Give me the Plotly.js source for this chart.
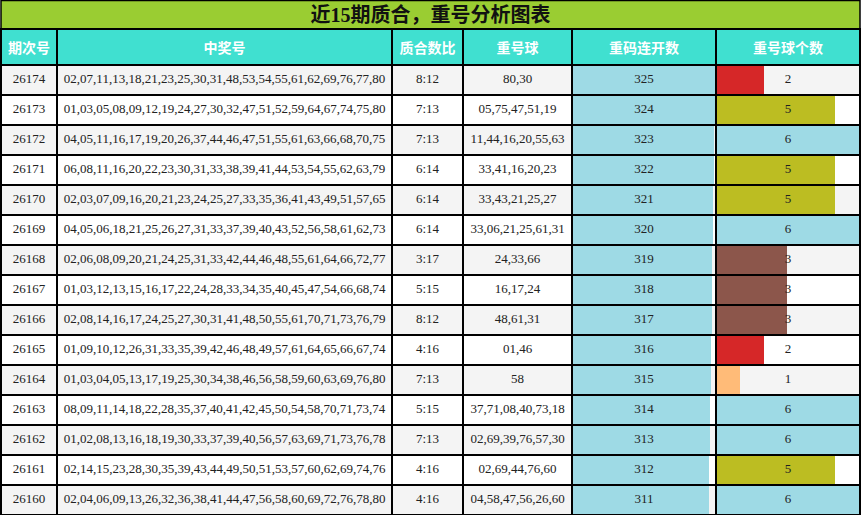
<!DOCTYPE html>
<html>
<head>
<meta charset="utf-8">
<script src="https://cdn.plot.ly/plotly-3.0.1.min.js"></script>
<style>
  html, body { margin: 0; padding: 0; background: #fff; }
  #chart { width: 861px; height: 515px; }
</style>
</head>
<body>
<div id="chart"></div>
<script>
        const chartTitle = '近15期质合，重号分析图表';
        const headers = ['期次号', '中奖号', '质合数比', '重号球', '重码连开数', '重号球个数'];

        const periods = ['26174', '26173', '26172', '26171', '26170', '26169', '26168', '26167',
            '26166', '26165', '26164', '26163', '26162', '26161', '26160'];
        const draws = [
            '02,07,11,13,18,21,23,25,30,31,48,53,54,55,61,62,69,76,77,80',
            '01,03,05,08,09,12,19,24,27,30,32,47,51,52,59,64,67,74,75,80',
            '04,05,11,16,17,19,20,26,37,44,46,47,51,55,61,63,66,68,70,75',
            '06,08,11,16,20,22,23,30,31,33,38,39,41,44,53,54,55,62,63,79',
            '02,03,07,09,16,20,21,23,24,25,27,33,35,36,41,43,49,51,57,65',
            '04,05,06,18,21,25,26,27,31,33,37,39,40,43,52,56,58,61,62,73',
            '02,06,08,09,20,21,24,25,31,33,42,44,46,48,55,61,64,66,72,77',
            '01,03,12,13,15,16,17,22,24,28,33,34,35,40,45,47,54,66,68,74',
            '02,08,14,16,17,24,25,27,30,31,41,48,50,55,61,70,71,73,76,79',
            '01,09,10,12,26,31,33,35,39,42,46,48,49,57,61,64,65,66,67,74',
            '01,03,04,05,13,17,19,25,30,34,38,46,56,58,59,60,63,69,76,80',
            '08,09,11,14,18,22,28,35,37,40,41,42,45,50,54,58,70,71,73,74',
            '01,02,08,13,16,18,19,30,33,37,39,40,56,57,63,69,71,73,76,78',
            '02,14,15,23,28,30,35,39,43,44,49,50,51,53,57,60,62,69,74,76',
            '02,04,06,09,13,26,32,36,38,41,44,47,56,58,60,69,72,76,78,80'
        ];
        const ratios = ['8:12', '7:13', '7:13', '6:14', '6:14', '6:14', '3:17', '5:15',
            '8:12', '4:16', '7:13', '5:15', '7:13', '4:16', '4:16'];
        const repeats = ['80,30', '05,75,47,51,19', '11,44,16,20,55,63', '33,41,16,20,23',
            '33,43,21,25,27', '33,06,21,25,61,31', '24,33,66', '16,17,24', '48,61,31', '01,46',
            '58', '37,71,08,40,73,18', '02,69,39,76,57,30', '02,69,44,76,60', '04,58,47,56,26,60'];
        const streak = [325, 324, 323, 322, 321, 320, 319, 318, 317, 316, 315, 314, 313, 312, 311];
        const repeatCount = [2, 5, 6, 5, 5, 6, 3, 3, 3, 2, 1, 6, 6, 5, 6];

        // colours per repeat count
        const countColors = { 1: '#ffbb78', 2: '#d62728', 3: '#8c564b', 4: '#98df8a', 5: '#bcbd22', 6: '#9edae5' };

        const W = 861, H = 515;
        const colW = [56, 335, 71, 109, 144, 144];
        const tableLeft = 1, titleH = 29, headH = 35, rowH = 30;

        // column edges in pixels -> paper fractions
        const edges = [tableLeft];
        colW.forEach(w => edges.push(edges[edges.length - 1] + w));
        const px = v => v / W;
        const py = v => 1 - v / H;

        const rowFill = periods.map((p, i) => i % 2 === 0 ? '#f4f4f4' : '#ffffff');
        const clear = periods.map(() => 'rgba(0,0,0,0)');

        const table = {
            type: 'table',
            domain: { x: [px(edges[0]), px(edges[6])], y: [0, py(titleH)] },
            columnwidth: colW,
            header: {
                values: headers.map(h => '<b>' + h + '</b>'),
                height: headH,
                align: 'center',
                fill: { color: '#40e0d0' },
                line: { color: '#000', width: 1.5 },
                font: { family: 'Noto Sans CJK SC', size: 14, color: '#fff' }
            },
            cells: {
                values: [periods, draws, ratios, repeats, streak, repeatCount],
                height: rowH,
                align: 'center',
                fill: { color: [rowFill, rowFill, rowFill, rowFill, clear, clear] },
                line: { color: '#000', width: 1.5 },
                font: { family: 'Liberation Serif, serif', size: 13, color: '#222' }
            }
        };

        const streakBars = {
            type: 'bar', orientation: 'h',
            x: streak, y: periods,
            xaxis: 'x', yaxis: 'y',
            marker: { color: '#9edae5' },
            hoverinfo: 'skip'
        };
        const countBars = {
            type: 'bar', orientation: 'h',
            x: repeatCount, y: periods,
            xaxis: 'x2', yaxis: 'y2',
            marker: { color: repeatCount.map(c => countColors[c]) },
            hoverinfo: 'skip'
        };

        const barsY = [py(titleH + headH + rowH * periods.length), py(titleH + headH)];
        const hiddenAxis = { showgrid: false, zeroline: false, showticklabels: false, showline: false, ticks: '', fixedrange: true };

        // grey stripes behind the bar columns
        const stripes = [];
        periods.forEach((p, i) => {
            if (i % 2 !== 0) return;
            ['x', 'x2'].forEach((ax, k) => {
                stripes.push({
                    type: 'rect', layer: 'below',
                    xref: ax + ' domain', x0: 0, x1: 1,
                    yref: k === 0 ? 'y' : 'y2', y0: i - 0.5, y1: i + 0.5,
                    fillcolor: '#f4f4f4', line: { width: 0 }
                });
            });
        });

        // title band
        stripes.push({
            type: 'rect', xref: 'paper', yref: 'paper', layer: 'below',
            x0: px(edges[0]), x1: px(edges[6]), y0: py(titleH), y1: py(0.5),
            fillcolor: '#9acd32', line: { color: '#000', width: 1.5 }
        });

        const layout = {
            width: W, height: H,
            margin: { l: 0, r: 0, t: 0, b: 0 },
            paper_bgcolor: '#fff',
            plot_bgcolor: '#fff',
            showlegend: false,
            bargap: 0,
            title: {
                text: '<b>' + chartTitle + '</b>',
                font: { family: 'Liberation Serif, Noto Sans CJK SC', size: 20, color: '#111' },
                xref: 'paper', x: 0.5, xanchor: 'center',
                yref: 'container', y: 1 - 15 / H, yanchor: 'middle'
            },
            xaxis: Object.assign({ domain: [px(edges[4]), px(edges[5])], range: [0, 327], anchor: 'y' }, hiddenAxis),
            yaxis: Object.assign({ domain: barsY, type: 'category', range: [periods.length - 0.5, -0.5], anchor: 'x' }, hiddenAxis),
            xaxis2: Object.assign({ domain: [px(edges[5]), px(edges[6])], range: [0, 6.05], anchor: 'y2' }, hiddenAxis),
            yaxis2: Object.assign({ domain: barsY, type: 'category', range: [periods.length - 0.5, -0.5], anchor: 'x2' }, hiddenAxis),
            shapes: stripes
        };

        Plotly.newPlot('chart', [streakBars, countBars, table], layout, { displayModeBar: false, staticPlot: true });
</script>
</body>
</html>
